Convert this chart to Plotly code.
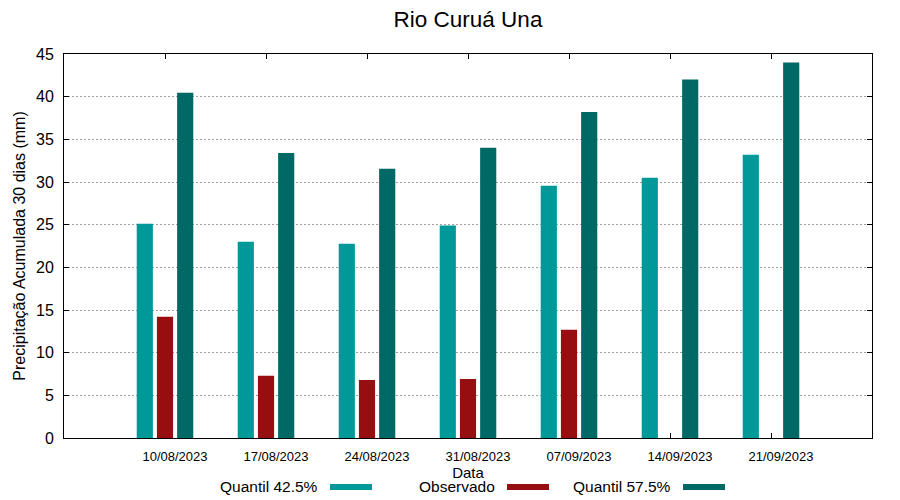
import plotly.graph_objects as go

categories = ["10/08/2023", "17/08/2023", "24/08/2023", "31/08/2023",
              "07/09/2023", "14/09/2023", "21/09/2023"]
series_names = ["Quantil 42.5%", "Observado", "Quantil 57.5%"]
q425 = [25.1, 23.0, 22.75, 24.9, 29.55, 30.5, 33.2]
observado = [14.2, 7.3, 6.8, 6.9, 12.7, None, None]
q575 = [40.45, 33.4, 31.55, 34.0, 38.2, 42.0, 44.0]
y_ticks = [0, 5, 10, 15, 20, 25, 30, 35, 40, 45]

colors = ["#009999", "#960e10", "#006966"]
FONT = "Liberation Sans, Arial, sans-serif"

fig = go.Figure()
for name, vals, col in zip(series_names, [q425, observado, q575], colors):
    fig.add_trace(go.Bar(x=categories, y=vals, name=name, marker_color=col,
                         marker_line_width=0, showlegend=False))

L, R, T, B = 64, 28, 54, 62
W, H = 900, 500
pw, ph = W - L - R, H - T - B

fig.update_layout(
    width=W, height=H,
    margin=dict(l=L, r=R, t=T, b=B),
    paper_bgcolor="white", plot_bgcolor="white",
    barmode="group", bargap=0.4, bargroupgap=0.2,
    font=dict(family=FONT, color="black"),
    title=dict(text="Rio Curuá Una", x=(L + pw / 2) / W, xanchor="center",
               y=1 - 19 / H, yanchor="middle", yref="container",
               font=dict(size=22.5, family=FONT, color="black")),
    xaxis=dict(type="category", range=[-1, 7], showgrid=False, automargin=False,
               showline=True, linecolor="black", linewidth=1, mirror="ticks",
               ticks="inside", ticklen=5, tickcolor="black", tickwidth=1,
               tickfont=dict(size=13, family=FONT), ticklabelshift=10,
               ticklabelstandoff=6, layer="below traces",
               title=dict(text="Data", font=dict(size=15, family=FONT), standoff=3)),
    yaxis=dict(range=[0, 45], tickvals=y_ticks, showgrid=True, automargin=False,
               gridcolor="#a0a0a0", griddash="2px,2px", gridwidth=1,
               showline=True, linecolor="black", linewidth=1, mirror="ticks",
               ticks="inside", ticklen=5, tickcolor="black", tickwidth=1,
               tickfont=dict(size=16, family=FONT), ticklabelstandoff=6,
               zeroline=False,
               title=dict(text="Precipitação Acumulada 30 dias (mm)",
                          font=dict(size=16, family=FONT), standoff=6)),
)

# gnuplot-style legend: text followed by a colour swatch
text_right = [320, 497, 673]
sw_left = [330, 507, 683]
sw_w = 42
leg_y = 486
for name, col, tr, sl in zip(series_names, colors, text_right, sw_left):
    fig.add_annotation(text=name, xref="paper", yref="paper",
                       x=(tr - L) / pw, y=(H - B - leg_y) / ph,
                       xanchor="right", yanchor="middle", showarrow=False,
                       font=dict(size=15.5, family=FONT, color="black"))
    fig.add_shape(type="rect", xref="paper", yref="paper",
                  x0=(sl - L) / pw, x1=(sl + sw_w - L) / pw,
                  y0=(H - B - 490) / ph, y1=(H - B - 484) / ph,
                  fillcolor=col, line_width=0)

fig.write_html("out.html", config={"displayModeBar": False},
               post_script="document.body.style.margin='0';document.body.style.overflow='hidden';")
